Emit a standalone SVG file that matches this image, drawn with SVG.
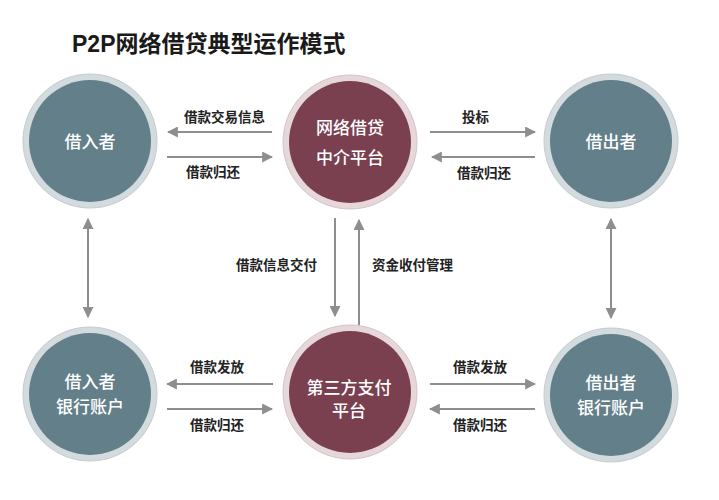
<svg xmlns="http://www.w3.org/2000/svg" width="719" height="500" viewBox="0 0 719 500">
<style>
.ringb{fill:#d3dbde;stroke:#c2ccd0;stroke-width:1}
.fillb{fill:#637f8a}
.ringr{fill:#e6d7da;stroke:#d5c3c7;stroke-width:1}
.fillr{fill:#7b4050}
.nt{font-family:"Noto Sans CJK SC","Noto Sans",sans-serif;font-size:17px;fill:#ffffff;text-anchor:middle;font-weight:500}
.lb{font-family:"Noto Sans CJK SC","Noto Sans",sans-serif;font-size:13.5px;fill:#222222;font-weight:700}
.ar{stroke:#8e8e8e;stroke-width:2;fill:none}
</style>
<defs>
<marker id="ah" viewBox="0 0 10 10" refX="9" refY="5" markerWidth="5.5" markerHeight="5.5" orient="auto-start-reverse" markerUnits="strokeWidth">
<path d="M0,0 L10,5 L0,10 z" fill="#8e8e8e"/>
</marker>
</defs>
<rect width="719" height="500" fill="#ffffff"/>
<text x="72" y="52" font-family="Liberation Sans,'Noto Sans CJK SC',sans-serif" font-size="23" font-weight="700" fill="#1a1a1a">P2P网络借贷典型运作模式</text>

<g id="connectors">
<line class="ar" x1="272" y1="132" x2="168" y2="132" marker-end="url(#ah)"/>
<line class="ar" x1="167" y1="157" x2="272" y2="157" marker-end="url(#ah)"/>
<line class="ar" x1="430" y1="132" x2="535" y2="132" marker-end="url(#ah)"/>
<line class="ar" x1="535" y1="157" x2="432" y2="157" marker-end="url(#ah)"/>
<line class="ar" x1="335" y1="218" x2="335" y2="316" marker-end="url(#ah)"/>
<line class="ar" x1="359" y1="325" x2="359" y2="220" marker-end="url(#ah)"/>
<line class="ar" x1="88" y1="219" x2="88" y2="317" marker-start="url(#ah)" marker-end="url(#ah)"/>
<line class="ar" x1="611" y1="219" x2="611" y2="318" marker-start="url(#ah)" marker-end="url(#ah)"/>
<line class="ar" x1="273" y1="384" x2="167" y2="384" marker-end="url(#ah)"/>
<line class="ar" x1="167" y1="409" x2="272" y2="409" marker-end="url(#ah)"/>
<line class="ar" x1="430" y1="384" x2="535" y2="384" marker-end="url(#ah)"/>
<line class="ar" x1="535" y1="409" x2="430" y2="409" marker-end="url(#ah)"/>
<text class="lb" x="184" y="122">借款交易信息</text>
<text class="lb" x="186" y="177">借款归还</text>
<text class="lb" x="462" y="122">投标</text>
<text class="lb" x="457" y="178">借款归还</text>
<text class="lb" x="236" y="270">借款信息交付</text>
<text class="lb" x="372" y="270">资金收付管理</text>
<text class="lb" x="190" y="372">借款发放</text>
<text class="lb" x="190" y="430">借款归还</text>
<text class="lb" x="453" y="372">借款发放</text>
<text class="lb" x="453" y="430">借款归还</text>
</g>

<g id="borrower">
<circle class="ringb" cx="90" cy="141" r="67"/>
<circle class="fillb" cx="90" cy="141" r="61"/>
<text class="nt" x="90" y="148">借入者</text>
</g>
<g id="platform">
<circle class="ringr" cx="350" cy="142" r="67"/>
<circle class="fillr" cx="350" cy="142" r="61"/>
<text class="nt" x="350" y="134">网络借贷</text>
<text class="nt" x="350" y="164">中介平台</text>
</g>
<g id="lender">
<circle class="ringb" cx="611" cy="141" r="67"/>
<circle class="fillb" cx="611" cy="141" r="61"/>
<text class="nt" x="611" y="148">借出者</text>
</g>
<g id="borrower-bank">
<circle class="ringb" cx="90" cy="394" r="67"/>
<circle class="fillb" cx="90" cy="394" r="61"/>
<text class="nt" x="90" y="388">借入者</text>
<text class="nt" x="90" y="413">银行账户</text>
</g>
<g id="third-party">
<circle class="ringr" cx="350" cy="392" r="67"/>
<circle class="fillr" cx="350" cy="392" r="61"/>
<text class="nt" x="349" y="394">第三方支付</text>
<text class="nt" x="349" y="417">平台</text>
</g>
<g id="lender-bank">
<circle class="ringb" cx="611" cy="395" r="67"/>
<circle class="fillb" cx="611" cy="395" r="61"/>
<text class="nt" x="611" y="389">借出者</text>
<text class="nt" x="611" y="414">银行账户</text>
</g>
</svg>
